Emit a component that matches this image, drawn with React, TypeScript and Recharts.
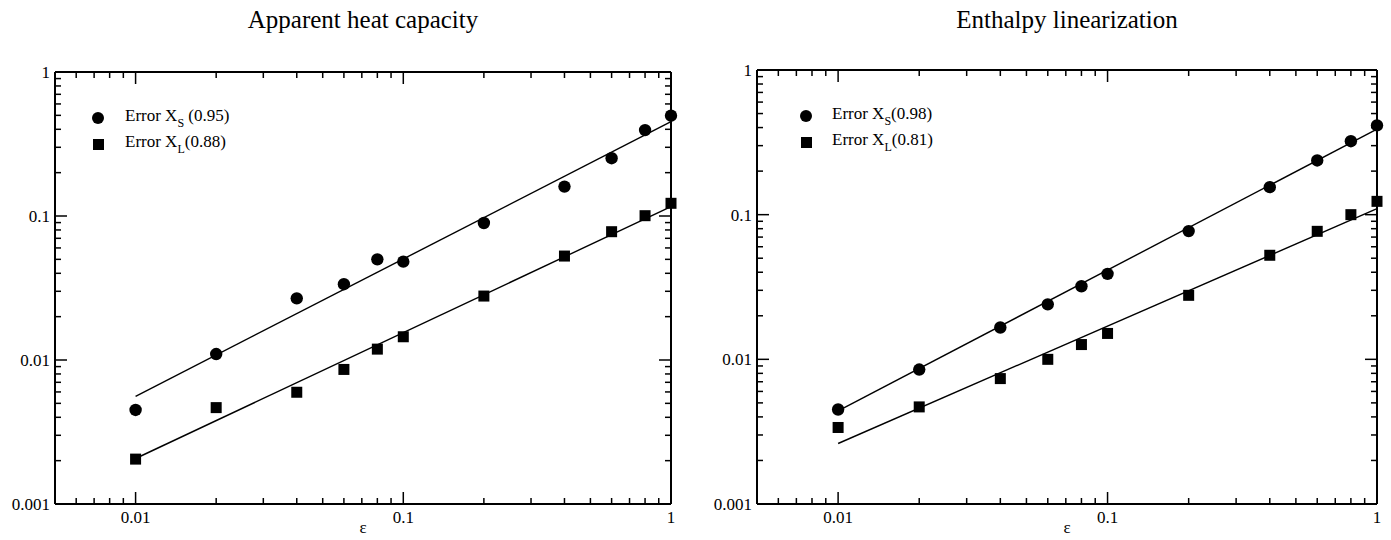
import React from 'react';
import { ScatterChart, Scatter, XAxis, YAxis, Legend } from 'recharts';

// epsilon values (shared by both panels)
const eps = [0.01, 0.02, 0.04, 0.06, 0.08, 0.1, 0.2, 0.4, 0.6, 0.8, 1];

// Apparent heat capacity
const heatXS = [0.0045, 0.011, 0.0268, 0.0336, 0.05, 0.0482, 0.0894, 0.16, 0.252, 0.395, 0.497];
const heatXL = [0.00205, 0.00467, 0.00597, 0.0086, 0.0119, 0.0145, 0.0278, 0.0527, 0.0778, 0.1005, 0.1225];
const heatFitXS = [0.0056, 0.452];
const heatFitXL = [0.00207, 0.116];

// Enthalpy linearization
const enthXS = [0.0045, 0.0085, 0.0166, 0.024, 0.032, 0.039, 0.077, 0.155, 0.237, 0.322, 0.414];
const enthXL = [0.00338, 0.00469, 0.00736, 0.01, 0.01265, 0.0151, 0.0277, 0.0524, 0.0767, 0.1, 0.1236];
const enthFitXS = [0.0044, 0.39];
const enthFitXL = [0.00262, 0.11];

const fitX = [0.01, 1];

const xTicks = [
  0.006, 0.007, 0.008, 0.009, 0.01, 0.02, 0.03, 0.04, 0.05, 0.06, 0.07, 0.08, 0.09,
  0.1, 0.2, 0.3, 0.4, 0.5, 0.6, 0.7, 0.8, 0.9, 1,
];
const yTicks = [
  0.001, 0.002, 0.003, 0.004, 0.005, 0.006, 0.007, 0.008, 0.009,
  0.01, 0.02, 0.03, 0.04, 0.05, 0.06, 0.07, 0.08, 0.09,
  0.1, 0.2, 0.3, 0.4, 0.5, 0.6, 0.7, 0.8, 0.9, 1,
];
const majorTicks = [0.001, 0.01, 0.1, 1];

const FONT = '"Liberation Serif", "Times New Roman", serif';
const isMajor = (v: number) => majorTicks.some((m) => Math.abs(v - m) < 1e-9);

const BottomTick = ({ x, y, payload }: any) => {
  const major = isMajor(payload.value);
  return (
    <g>
      <line x1={x} x2={x} y1={y} y2={y - (major ? 12 : 6)} stroke="#000" strokeWidth={1.5} />
      {major && (
        <text x={x} y={y + 19} textAnchor="middle" fontSize={17} fontFamily={FONT} fill="#000">
          {String(payload.value)}
        </text>
      )}
    </g>
  );
};

const TopTick = ({ x, y, payload }: any) => {
  const major = isMajor(payload.value);
  return <line x1={x} x2={x} y1={y} y2={y + (major ? 12 : 6)} stroke="#000" strokeWidth={1.5} />;
};

const LeftTick = ({ x, y, payload }: any) => {
  const major = isMajor(payload.value);
  return (
    <g>
      <line x1={x} x2={x + (major ? 12 : 6)} y1={y} y2={y} stroke="#000" strokeWidth={1.5} />
      {major && (
        <text x={x - 5} y={y} dy="0.35em" textAnchor="end" fontSize={17} fontFamily={FONT} fill="#000">
          {String(payload.value)}
        </text>
      )}
    </g>
  );
};

const RightTick = ({ x, y, payload }: any) => {
  const major = isMajor(payload.value);
  return <line x1={x} x2={x - (major ? 12 : 6)} y1={y} y2={y} stroke="#000" strokeWidth={1.5} />;
};

const Dot = (p: any) => <circle cx={p.cx} cy={p.cy} r={6.2} fill="#000" />;
const Square = (p: any) => <rect x={p.cx - 5.5} y={p.cy - 5.5} width={11} height={11} fill="#000" />;
const NoShape = () => <g />;

const toPoints = (xs: number[], ys: number[]) => xs.map((x, i) => ({ x, y: ys[i] }));

interface LegendRow {
  marker: 'circle' | 'square';
  sub: string;
  value: string;
  gap: boolean;
}

const PanelLegend = ({ rows, textGap }: { rows: LegendRow[]; textGap: number }) => (
  <div style={{ fontFamily: FONT, fontSize: 17, color: '#000' }}>
    {rows.map((r) => (
      <div key={r.sub} style={{ display: 'flex', alignItems: 'center', height: 26, whiteSpace: 'nowrap' }}>
        <div style={{ width: 16, display: 'flex', justifyContent: 'center' }}>
          <div
            style={{
              width: r.marker === 'circle' ? 12.4 : 11,
              height: r.marker === 'circle' ? 12.4 : 11,
              borderRadius: r.marker === 'circle' ? '50%' : 0,
              background: '#000',
            }}
          />
        </div>
        <span style={{ marginLeft: textGap, position: 'relative', top: -2, lineHeight: '26px' }}>
          Error X
          <span style={{ fontSize: 12, position: 'relative', top: 6 }}>{r.sub}</span>
          {r.gap ? ' ' : ''}({r.value})
        </span>
      </div>
    ))}
  </div>
);

interface PanelProps {
  title: string;
  width: number;
  plotTop: number;
  plotLeft: number;
  plotRight: number;
  xs: number[];
  xl: number[];
  fitS: number[];
  fitL: number[];
  legendRows: LegendRow[];
  legendPos: { left: number; top: number };
  textGap: number;
}

const BOTTOM_AXIS_H = 30;
const LEFT_AXIS_W = 45;

const Panel: React.FC<PanelProps> = ({
  title, width, plotTop, plotLeft, plotRight, xs, xl, fitS, fitL, legendRows, legendPos, textGap,
}) => {
  const axisLine = { stroke: '#000', strokeWidth: 2 };
  const margin = {
    top: plotTop - 1,
    right: width - plotRight - 1,
    bottom: 540 - 504 - BOTTOM_AXIS_H,
    left: plotLeft - LEFT_AXIS_W,
  };
  return (
    <ScatterChart width={width} height={540} margin={margin}>
      <XAxis
        xAxisId="b"
        dataKey="x"
        type="number"
        scale="log"
        domain={[0.005, 1]}
        ticks={xTicks}
        interval={0}
        height={BOTTOM_AXIS_H}
        tickSize={0}
        tickMargin={0}
        tickLine={false}
        axisLine={axisLine}
        tick={BottomTick}
        label={{ value: 'ε', position: 'bottom', offset: -13, fontSize: 17, fontFamily: FONT, fill: '#000' }}
      />
      <XAxis
        xAxisId="t"
        orientation="top"
        dataKey="x"
        type="number"
        scale="log"
        domain={[0.005, 1]}
        ticks={xTicks}
        interval={0}
        height={1}
        tickSize={0}
        tickMargin={0}
        tickLine={false}
        axisLine={axisLine}
        tick={TopTick}
        label={{ value: title, position: 'top', offset: margin.top - 28, fontSize: 25, fontFamily: FONT, fill: '#000' }}
      />
      <YAxis
        yAxisId="l"
        dataKey="y"
        type="number"
        scale="log"
        domain={[0.001, 1]}
        ticks={yTicks}
        interval={0}
        width={LEFT_AXIS_W}
        tickSize={0}
        tickMargin={0}
        tickLine={false}
        axisLine={axisLine}
        tick={LeftTick}
      />
      <YAxis
        yAxisId="r"
        orientation="right"
        dataKey="y"
        type="number"
        scale="log"
        domain={[0.001, 1]}
        ticks={yTicks}
        interval={0}
        width={1}
        tickSize={0}
        tickMargin={0}
        tickLine={false}
        axisLine={axisLine}
        tick={RightTick}
      />
      <Legend
        layout="horizontal"
        verticalAlign="middle"
        align="center"
        wrapperStyle={{ left: legendPos.left, top: legendPos.top, width: 'auto' }}
        content={() => <PanelLegend rows={legendRows} textGap={textGap} />}
      />
      <Scatter
        xAxisId="t"
        yAxisId="r"
        data={toPoints(fitX, fitS)}
        line={{ stroke: '#000', strokeWidth: 1.4 }}
        shape={NoShape}
        legendType="none"
        isAnimationActive={false}
      />
      <Scatter
        xAxisId="t"
        yAxisId="r"
        data={toPoints(fitX, fitL)}
        line={{ stroke: '#000', strokeWidth: 1.4 }}
        shape={NoShape}
        legendType="none"
        isAnimationActive={false}
      />
      <Scatter xAxisId="b" yAxisId="l" data={toPoints(eps, xs)} shape={Dot} isAnimationActive={false} />
      <Scatter xAxisId="b" yAxisId="l" data={toPoints(eps, xl)} shape={Square} isAnimationActive={false} />
    </ScatterChart>
  );
};

export default function App() {
  return (
    <div style={{ position: 'absolute', left: 0, top: 0, width: 1391, height: 540, background: '#fff' }}>
      <div style={{ position: 'absolute', left: 0, top: 0 }}>
        <Panel
          title="Apparent heat capacity"
          width={700}
          plotTop={72}
          plotLeft={55}
          plotRight={671}
          xs={heatXS}
          xl={heatXL}
          fitS={heatFitXS}
          fitL={heatFitXL}
          legendRows={[
            { marker: 'circle', sub: 'S', value: '0.95', gap: true },
            { marker: 'square', sub: 'L', value: '0.88', gap: false },
          ]}
          legendPos={{ left: 90, top: 105 }}
          textGap={19}
        />
      </div>
      <div style={{ position: 'absolute', left: 700, top: 0 }}>
        <Panel
          title="Enthalpy linearization"
          width={691}
          plotTop={70}
          plotLeft={57}
          plotRight={677}
          xs={enthXS}
          xl={enthXL}
          fitS={enthFitXS}
          fitL={enthFitXL}
          legendRows={[
            { marker: 'circle', sub: 'S', value: '0.98', gap: false },
            { marker: 'square', sub: 'L', value: '0.81', gap: false },
          ]}
          legendPos={{ left: 98, top: 103 }}
          textGap={18}
        />
      </div>
    </div>
  );
}
